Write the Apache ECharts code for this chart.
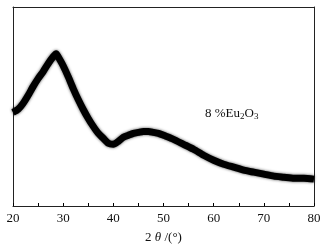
<!DOCTYPE html>
<html>
<head>
<meta charset="utf-8">
<script src="https://cdn.jsdelivr.net/npm/echarts@6/dist/echarts.min.js"></script>
<style>
  html, body { margin: 0; padding: 0; background: #fff; }
  #chart { width: 327px; height: 249px; }
</style>
</head>
<body>
<div id="chart"></div>
<script>
// 2theta positions (deg) and intensity (arb. units)
var twoTheta = [20, 21, 22, 23, 24, 25, 26, 27, 28, 28.6, 29, 30, 31, 32, 33, 34, 35, 36, 37, 38, 39, 40,
  41, 42, 43, 44, 45, 46, 47, 48, 49, 50, 52, 54, 56, 58, 60, 62, 64, 66, 68, 70, 72, 74, 76, 78, 80]
var intensity = [94, 97, 103, 111, 120, 128, 135, 143, 150, 153, 150, 141, 130, 118, 107, 97, 88, 80, 73, 68, 63, 62,
  65, 69, 71, 73, 74, 75, 75, 74, 73, 71, 67, 62, 57, 51, 46, 42, 39, 36, 34, 32, 30, 29, 28, 28, 27]
var xTicks = [20, 30, 40, 50, 60, 70, 80]
var sampleLabel = '8 %Eu₂O₃'

var chart = echarts.init(document.getElementById('chart'))
var serif = 'Liberation Serif'
var frame = { show: true, onZero: false, lineStyle: { color: '#222', width: 1 } }

chart.setOption({
  animation: false,
  backgroundColor: '#fff',
  grid: { left: 13, right: 13, top: 7, bottom: 42 },
  xAxis: [{
    type: 'value',
    position: 'bottom',
    min: xTicks[0],
    max: xTicks[xTicks.length - 1],
    interval: 5,
    name: '{n|2 }{t|θ}{n| /(°)}',
    nameLocation: 'middle',
    nameGap: 25,
    nameTextStyle: {
      rich: {
        n: { fontFamily: serif, fontSize: 13, color: '#111' },
        t: { fontFamily: serif, fontSize: 13, fontStyle: 'italic', color: '#111' }
      }
    },
    axisLine: frame,
    axisTick: { show: true, inside: true, length: 3, lineStyle: { color: '#000', width: 1 } },
    axisLabel: {
      show: true,
      fontFamily: serif,
      fontSize: 13,
      color: '#111',
      margin: 6,
      formatter: function (v) { return xTicks.indexOf(v) >= 0 ? String(v) : '' }
    },
    splitLine: { show: false }
  }, {
    type: 'value',
    position: 'top',
    min: xTicks[0],
    max: xTicks[xTicks.length - 1],
    axisLine: frame,
    axisTick: { show: false },
    axisLabel: { show: false },
    splitLine: { show: false }
  }],
  yAxis: [{
    type: 'value',
    position: 'left',
    min: 0,
    max: 200,
    axisLine: frame,
    axisTick: { show: false },
    axisLabel: { show: false },
    splitLine: { show: false }
  }, {
    type: 'value',
    position: 'right',
    min: 0,
    max: 200,
    axisLine: frame,
    axisTick: { show: false },
    axisLabel: { show: false },
    splitLine: { show: false }
  }],
  graphic: [{
    type: 'text',
    left: 205,
    top: 107,
    style: {
      text: '{a|8 %Eu}{s|2}{a|O}{s|3}',
      rich: {
        a: { fontFamily: serif, fontSize: 13, fill: '#111' },
        s: { fontFamily: serif, fontSize: 9, fill: '#111', padding: [6, 0, 0, 0] }
      }
    }
  }],
  series: [{
    name: sampleLabel,
    type: 'line',
    smooth: 0.2,
    symbol: 'none',
    data: twoTheta.map(function (x, i) { return [x, intensity[i]] }),
    lineStyle: { color: '#000', width: 7, shadowBlur: 3, shadowColor: 'rgba(0,0,0,0.7)' }
  }]
})
</script>
</body>
</html>
